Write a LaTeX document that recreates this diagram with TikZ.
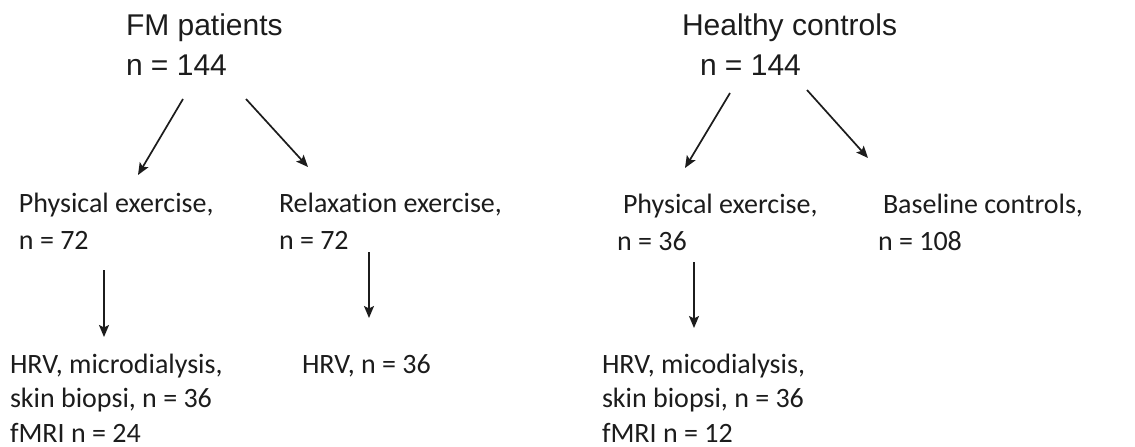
\documentclass[tikz,border=0pt]{standalone}
\usepackage{fontspec}
\setmainfont{Carlito}[Ligatures=NoCommon]
\newfontfamily\arialfont{Liberation Sans}
\usetikzlibrary{arrows.meta}
\definecolor{ink}{HTML}{1C1C1C}
\begin{document}
\begin{tikzpicture}[x=1pt,y=-1pt,
  every node/.style={inner sep=0pt,outer sep=0pt,text=ink,anchor=base west,align=left},
  title/.style={font=\arialfont\fontsize{30}{40}\selectfont},
  label/.style={font=\fontsize{28}{37}\selectfont},
  result/.style={font=\fontsize{28}{34.5}\selectfont},
  arr/.style={draw=ink,line width=1.7pt,-{Stealth[length=12pt,width=10pt,inset=2.5pt]}}]
\useasboundingbox[fill=white] (0,0) rectangle (1135,447);
% titles (anchor = baseline of last line)
\node[title] (fm) at (126,75) {FM patients\\n = 144};
\node[title] (hc) at (682,75) {Healthy controls\\\hspace{18pt}n = 144};
% second level
\node[label] (fmpe) at (19,249) {Physical exercise,\\n = 72};
\node[label] (fmre) at (279,249) {Relaxation exercise,\\n = 72};
\node[label] (hcpe) at (617,250) {\hspace{6pt}Physical exercise,\\n = 36};
\node[label] (hcbc) at (878,250) {\hspace{5pt}Baseline controls,\\n = 108};
% third level
\node[result] (fmpr) at (10,442) {HRV, microdialysis,\\skin biopsi, n = 36\\fMRI n = 24};
\node[result] (fmrr) at (302,373) {HRV, n = 36};
\node[result] (hcpr) at (602,442) {HRV, micodialysis,\\skin biopsi, n = 36\\fMRI n = 12};
% connector end points
\coordinate (a1s) at (183,99);  \coordinate (a1e) at (138,175);
\coordinate (a2s) at (246,99);  \coordinate (a2e) at (308,167);
\coordinate (a3s) at (104,270); \coordinate (a3e) at (104,337);
\coordinate (a4s) at (369,252); \coordinate (a4e) at (369,318);
\coordinate (a5s) at (730,93);  \coordinate (a5e) at (685,168);
\coordinate (a6s) at (807,90);  \coordinate (a6e) at (868,158);
\coordinate (a7s) at (694,262); \coordinate (a7e) at (694,328);
\draw[arr] (a1s) -- (a1e);
\draw[arr] (a2s) -- (a2e);
\draw[arr] (a3s) -- (a3e);
\draw[arr] (a4s) -- (a4e);
\draw[arr] (a5s) -- (a5e);
\draw[arr] (a6s) -- (a6e);
\draw[arr] (a7s) -- (a7e);
\end{tikzpicture}
\end{document}
